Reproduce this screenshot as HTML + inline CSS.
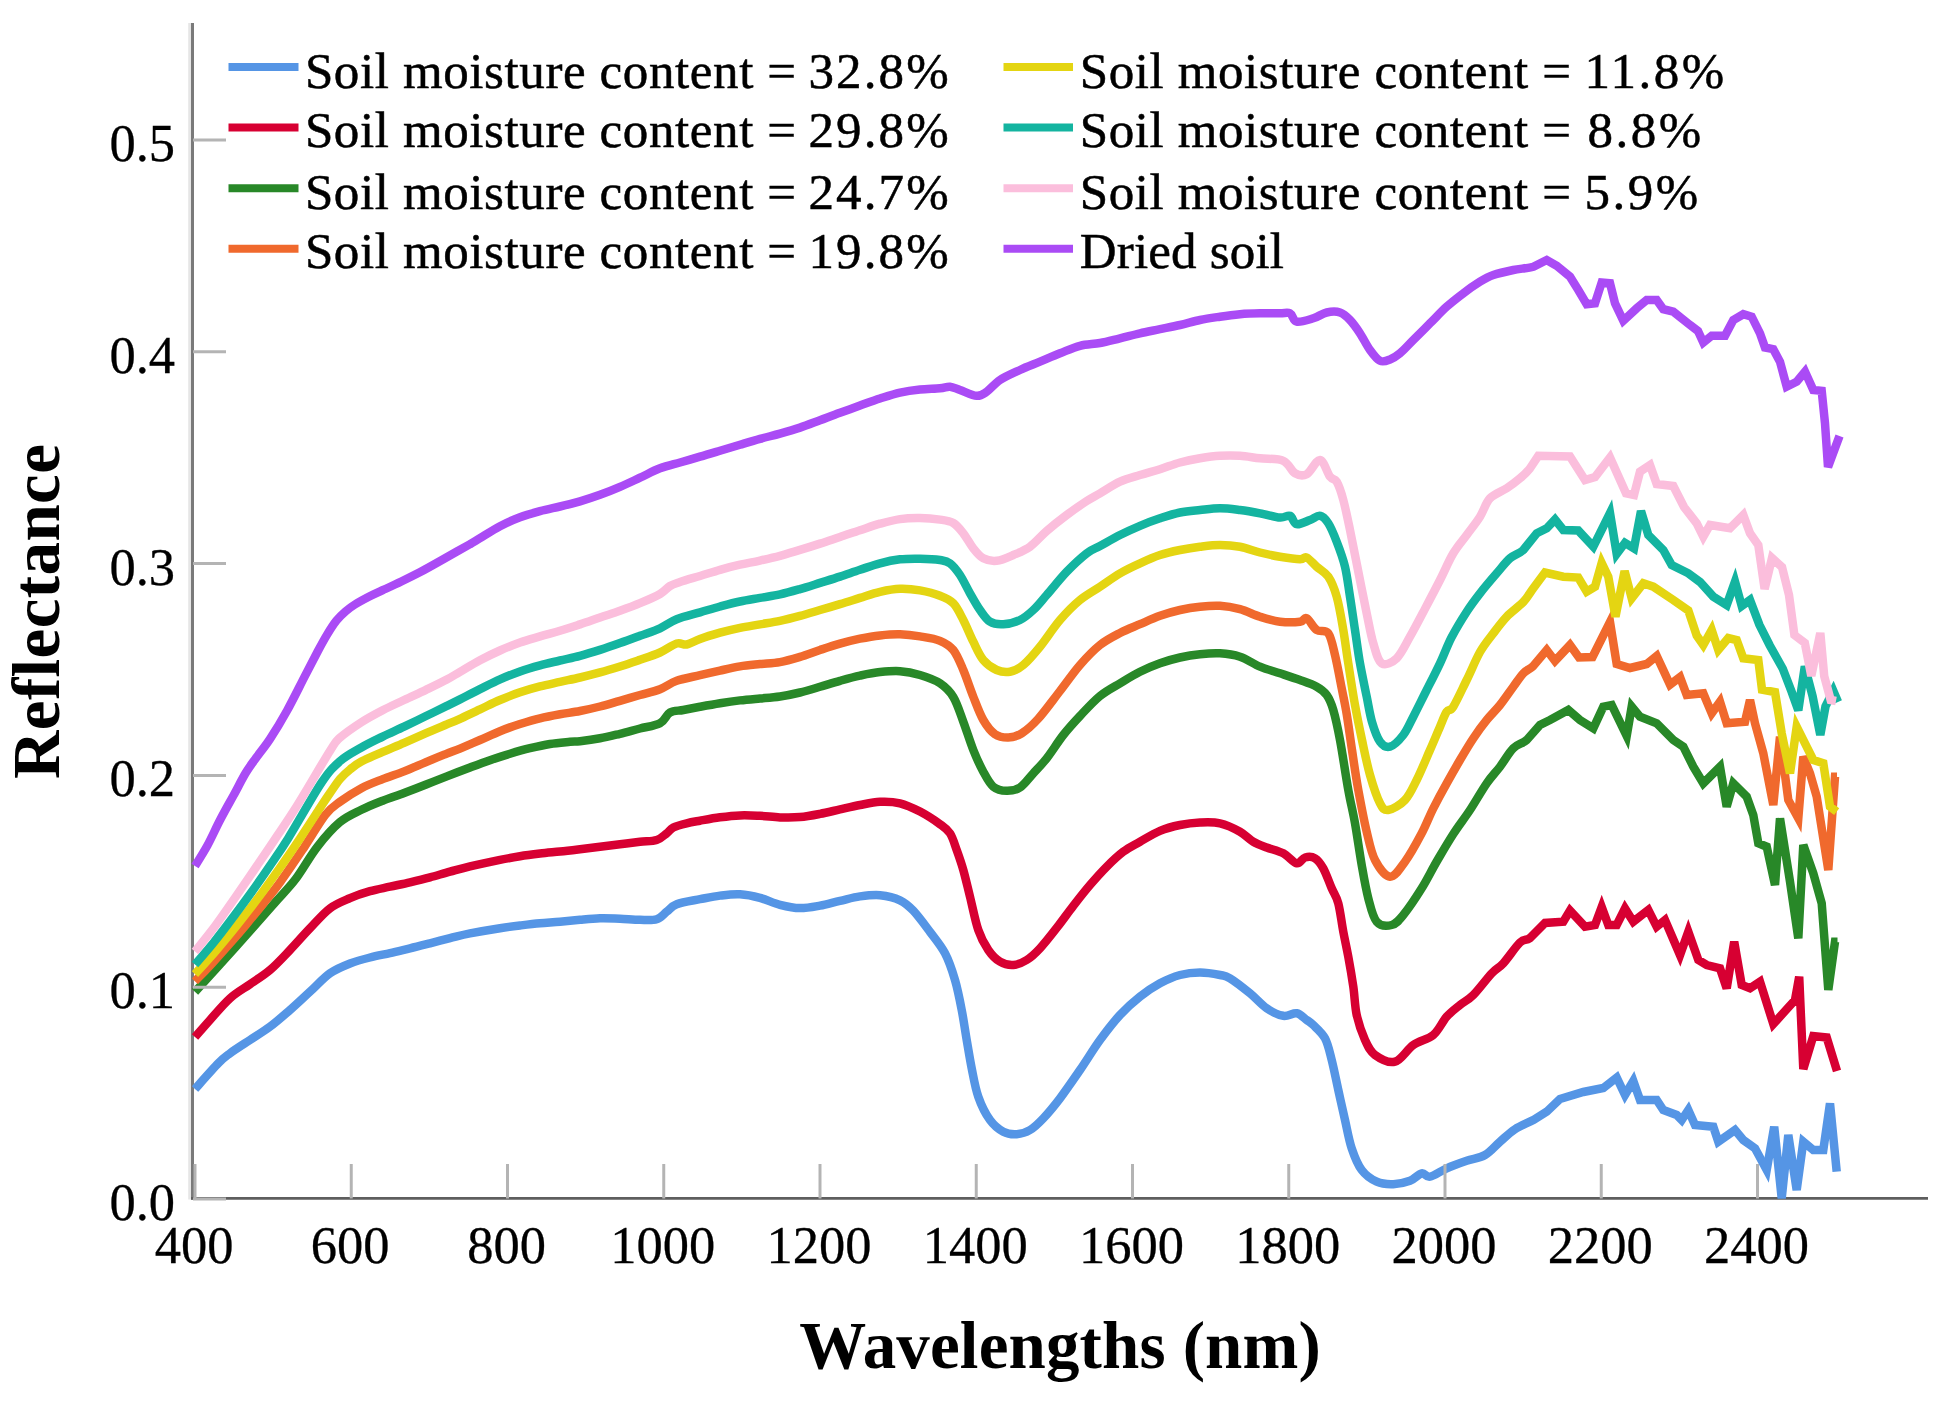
<!DOCTYPE html>
<html><head><meta charset="utf-8"><title>Soil reflectance spectra</title>
<style>html,body{margin:0;padding:0;background:#fff;}svg{display:block;}.lg{font-family:'Liberation Serif',serif;font-size:51px;fill:#000;stroke:#000;stroke-width:0.5px;}</style>
</head><body>
<svg width="1941" height="1404" viewBox="0 0 1941 1404">
<rect width="1941" height="1404" fill="#fff"/>
<line x1="189.6" y1="23" x2="189.6" y2="1199.5" stroke="#e6e6e6" stroke-width="2.8"/>
<line x1="192.5" y1="23" x2="192.5" y2="1199.5" stroke="#7a7a7a" stroke-width="3"/>
<line x1="191" y1="1198.4" x2="1928" y2="1198.4" stroke="#5e5e5e" stroke-width="2.8"/>
<g fill="none" stroke-width="8.5" stroke-linejoin="miter" stroke-miterlimit="4" stroke-linecap="butt">
<path stroke="#5595e5" d="M195.0,1089.0C198.9,1084.7 212.5,1069.2 218.3,1063.3C224.1,1057.3 224.7,1057.2 230.0,1053.3C235.3,1049.4 243.3,1044.4 250.0,1040.0C256.7,1035.6 263.3,1031.7 270.0,1026.7C276.7,1021.7 283.3,1015.8 290.0,1010.0C296.7,1004.2 303.3,997.8 310.0,991.7C316.7,985.6 323.3,978.0 330.0,973.3C336.7,968.6 343.3,966.1 350.0,963.5C356.7,960.9 363.3,959.2 370.0,957.5C376.7,955.8 383.3,954.6 390.0,953.1C396.7,951.6 403.3,949.9 410.0,948.3C416.7,946.7 423.3,945.0 430.0,943.3C436.7,941.6 443.3,939.8 450.0,938.1C456.7,936.5 461.7,935.0 470.0,933.4C478.3,931.8 491.7,929.5 500.0,928.2C508.3,926.9 513.3,926.3 520.0,925.5C526.7,924.7 533.3,923.9 540.0,923.3C546.7,922.7 553.3,922.3 560.0,921.7C566.7,921.1 573.3,920.4 580.0,919.8C586.7,919.2 593.3,918.5 600.0,918.3C606.7,918.1 613.3,918.5 620.0,918.7C626.7,919.0 633.9,919.7 640.0,919.8C646.1,919.9 652.2,920.6 656.7,919.2C661.2,917.9 663.4,914.2 666.7,911.7C670.0,909.2 671.2,906.3 676.7,904.2C682.2,902.1 692.8,900.6 700.0,899.2C707.2,897.8 713.3,896.4 720.0,895.6C726.7,894.8 733.3,893.9 740.0,894.3C746.7,894.7 753.3,896.1 760.0,897.9C766.7,899.6 773.3,903.1 780.0,904.8C786.7,906.5 793.3,908.0 800.0,908.1C806.7,908.2 813.3,906.8 820.0,905.6C826.7,904.4 833.3,902.3 840.0,900.8C846.7,899.3 853.3,897.3 860.0,896.4C866.7,895.5 873.3,894.6 880.0,895.2C886.7,895.9 894.5,897.7 900.0,900.3C905.5,902.9 908.3,905.4 913.3,910.7C918.3,916.0 924.7,924.8 930.0,931.9C935.3,939.0 940.8,945.3 945.0,953.3C949.2,961.3 952.2,970.5 955.0,980.0C957.8,989.5 959.8,1000.0 961.7,1010.0C963.7,1020.0 965.0,1030.3 966.7,1040.0C968.4,1049.7 969.8,1058.8 971.7,1068.3C973.6,1077.8 975.2,1088.1 978.3,1096.7C981.3,1105.3 985.8,1114.2 990.0,1120.0C994.2,1125.8 998.8,1129.3 1003.3,1131.7C1007.8,1134.1 1012.2,1134.5 1016.7,1134.2C1021.2,1133.9 1025.6,1132.7 1030.0,1130.0C1034.4,1127.3 1038.3,1123.6 1043.3,1118.3C1048.3,1113.0 1053.9,1106.3 1060.0,1098.3C1066.1,1090.2 1073.3,1079.7 1080.0,1070.0C1086.7,1060.3 1093.3,1049.2 1100.0,1040.0C1106.7,1030.8 1113.3,1022.2 1120.0,1015.0C1126.7,1007.8 1133.3,1002.0 1140.0,996.7C1146.7,991.4 1153.3,986.9 1160.0,983.3C1166.7,979.7 1173.3,976.8 1180.0,975.0C1186.7,973.2 1193.3,972.5 1200.0,972.5C1206.7,972.5 1215.0,974.0 1220.0,975.0C1225.0,976.0 1225.0,975.2 1230.0,978.3C1235.0,981.3 1243.9,988.3 1250.0,993.3C1256.1,998.3 1261.2,1004.5 1266.7,1008.3C1272.2,1012.0 1278.3,1015.0 1283.3,1015.8C1288.3,1016.6 1292.8,1012.6 1296.7,1013.3C1300.6,1014.0 1303.9,1018.0 1306.7,1020.0C1309.5,1022.0 1310.2,1022.0 1313.3,1025.0C1316.3,1028.0 1321.9,1032.5 1325.0,1038.3C1328.1,1044.1 1329.5,1051.4 1331.7,1060.0C1333.9,1068.6 1336.1,1080.0 1338.3,1090.0C1340.5,1100.0 1342.8,1110.3 1345.0,1120.0C1347.2,1129.7 1348.9,1140.0 1351.7,1148.3C1354.5,1156.6 1357.5,1164.4 1361.7,1170.0C1365.9,1175.6 1371.4,1179.3 1376.7,1181.7C1382.0,1184.1 1387.8,1184.4 1393.3,1184.2C1398.8,1184.0 1405.3,1182.6 1410.0,1180.8C1414.7,1179.0 1418.4,1174.0 1421.7,1173.3C1425.0,1172.6 1425.8,1177.5 1430.0,1176.7C1434.2,1175.9 1440.6,1171.0 1446.7,1168.3C1452.8,1165.6 1460.3,1163.0 1466.7,1160.8C1473.1,1158.6 1479.5,1158.2 1485.0,1155.0C1490.5,1151.8 1495.0,1146.0 1500.0,1141.7C1505.0,1137.4 1509.5,1132.8 1515.0,1129.2C1520.5,1125.6 1528.0,1122.9 1533.3,1120.0L1546.7,1111.7L1560.0,1099.0L1583.3,1092.0L1603.3,1088.0L1616.7,1077.5L1625.0,1095.0L1633.3,1081.0L1640.0,1100.0L1656.7,1100.0L1663.3,1110.0L1676.7,1115.0L1681.7,1120.0L1688.3,1110.0L1695.0,1125.0L1713.3,1126.7L1718.3,1141.7L1735.0,1130.0L1743.3,1140.0L1755.0,1148.3L1766.7,1170.0L1774.2,1126.7L1781.7,1198.3L1788.3,1135.0L1796.7,1190.0L1803.3,1141.7L1813.3,1150.0L1823.3,1150.0L1830.0,1103.3L1836.7,1171.7"/>
<path stroke="#d70032" d="M195.0,1037.0C197.5,1034.2 204.2,1026.5 210.0,1020.0C215.8,1013.5 223.3,1004.3 230.0,998.3C236.7,992.3 243.3,988.9 250.0,984.2C256.7,979.5 263.3,975.7 270.0,970.0C276.7,964.3 283.3,957.0 290.0,950.0C296.7,943.0 303.3,935.2 310.0,928.3C316.7,921.3 323.3,913.3 330.0,908.3C336.7,903.3 343.3,901.0 350.0,898.1C356.7,895.2 363.3,893.1 370.0,891.2C376.7,889.3 383.3,888.2 390.0,886.7C396.7,885.2 403.3,883.9 410.0,882.3C416.7,880.7 423.3,879.1 430.0,877.3C436.7,875.5 443.3,873.5 450.0,871.7C456.7,869.9 461.7,868.4 470.0,866.4C478.3,864.4 491.7,861.6 500.0,859.9C508.3,858.2 513.3,857.3 520.0,856.2C526.7,855.1 533.3,854.3 540.0,853.5C546.7,852.7 553.3,852.2 560.0,851.5C566.7,850.8 573.3,850.0 580.0,849.2C586.7,848.4 593.3,847.5 600.0,846.7C606.7,845.9 613.3,845.0 620.0,844.2C626.7,843.4 633.9,842.5 640.0,841.8C646.1,841.1 652.2,841.4 656.7,840.0C661.2,838.6 663.9,835.4 666.7,833.3C669.5,831.2 670.0,829.2 673.3,827.5C676.6,825.8 682.2,824.4 686.7,823.3C691.2,822.2 694.5,821.7 700.0,820.7C705.5,819.7 713.3,818.2 720.0,817.3C726.7,816.4 733.3,815.6 740.0,815.4C746.7,815.1 753.3,815.5 760.0,815.8C766.7,816.1 773.3,817.2 780.0,817.4C786.7,817.6 793.3,817.7 800.0,817.1C806.7,816.5 813.3,815.2 820.0,813.9C826.7,812.6 833.3,810.9 840.0,809.4C846.7,807.9 853.3,806.3 860.0,805.0C866.7,803.7 873.3,802.1 880.0,801.8C886.7,801.5 893.3,801.7 900.0,803.3C906.7,804.9 913.3,808.1 920.0,811.6C926.7,815.1 935.0,820.6 940.0,824.2C945.0,827.8 947.2,829.0 950.0,833.3C952.8,837.6 954.5,843.9 956.7,850.0C958.9,856.1 961.1,862.2 963.3,870.0C965.5,877.8 967.5,886.7 970.0,896.7C972.5,906.7 975.2,921.1 978.3,930.0C981.3,938.9 984.7,944.7 988.3,950.0C991.9,955.3 995.8,959.2 1000.0,961.7C1004.2,964.2 1008.8,965.3 1013.3,965.0C1017.8,964.7 1022.2,962.8 1026.7,960.0C1031.2,957.2 1034.7,954.0 1040.0,948.3C1045.3,942.6 1052.8,932.9 1058.3,925.8C1063.8,918.7 1068.0,912.6 1073.3,905.8C1078.6,899.0 1084.4,891.5 1090.0,885.0C1095.6,878.5 1101.2,872.2 1106.7,866.7C1112.2,861.2 1117.8,855.9 1123.3,851.7C1128.8,847.5 1133.9,845.2 1140.0,841.7C1146.1,838.2 1153.3,833.6 1160.0,830.8C1166.7,828.0 1173.3,826.4 1180.0,825.0C1186.7,823.6 1193.3,822.8 1200.0,822.5C1206.7,822.2 1213.3,821.8 1220.0,823.3C1226.7,824.8 1234.5,828.6 1240.0,831.7C1245.5,834.8 1248.8,839.1 1253.3,841.7C1257.8,844.3 1261.7,845.6 1266.7,847.5C1271.7,849.4 1278.3,850.7 1283.3,853.3C1288.3,855.9 1293.1,862.6 1296.7,863.3C1300.3,864.0 1302.0,858.3 1305.0,857.5C1308.0,856.7 1312.0,856.5 1315.0,858.3C1318.0,860.1 1320.5,863.3 1323.3,868.3C1326.1,873.3 1329.2,882.5 1331.7,888.3C1334.2,894.1 1336.4,896.1 1338.3,903.3C1340.2,910.5 1341.6,922.8 1343.3,931.7C1345.0,940.6 1346.6,947.5 1348.3,956.7C1350.0,965.9 1351.9,977.0 1353.3,986.7C1354.7,996.4 1354.8,1006.1 1356.7,1015.0C1358.7,1023.9 1362.0,1033.3 1365.0,1040.0C1368.0,1046.7 1370.0,1051.4 1375.0,1055.0C1380.0,1058.6 1388.6,1063.4 1395.0,1061.7C1401.4,1060.0 1406.9,1049.5 1413.3,1045.0C1419.7,1040.5 1427.7,1039.7 1433.3,1035.0C1438.9,1030.3 1442.2,1021.7 1446.7,1016.7C1451.2,1011.7 1455.6,1008.6 1460.0,1005.0C1464.4,1001.4 1468.0,1000.3 1473.3,995.0C1478.6,989.7 1486.7,978.6 1491.7,973.3C1496.7,968.0 1498.6,968.4 1503.3,963.3C1508.0,958.2 1515.5,946.7 1520.0,942.5C1524.5,938.3 1525.8,941.2 1530.0,938.0L1545.0,923.0L1563.3,921.7L1570.0,910.5L1585.0,926.7L1595.0,925.0L1601.7,907.0L1608.3,925.0L1616.7,925.0L1625.0,908.5L1633.3,921.7L1648.3,910.0L1656.7,926.7L1665.0,920.0L1680.0,955.0L1688.3,931.7L1698.3,960.0L1706.7,965.0L1720.0,968.3L1726.7,988.3L1734.2,941.7L1741.7,985.0L1750.0,988.3L1760.0,981.7L1773.3,1024.0L1795.0,1000.0L1799.2,976.7L1803.3,1069.0L1813.3,1036.0L1826.7,1037.5L1837.0,1071.0"/>
<path stroke="#288828" d="M195.0,991.9C198.4,988.2 208.5,977.1 215.2,969.7C221.9,962.3 228.6,954.8 235.3,947.3C242.0,939.8 248.8,932.3 255.5,924.7C262.2,917.1 268.9,909.5 275.6,901.9C282.3,894.2 288.9,888.0 295.8,878.8C302.8,869.6 309.9,856.2 317.3,846.8C324.7,837.3 332.6,828.3 340.0,822.1C347.4,815.9 354.3,813.4 361.4,809.8C368.5,806.2 375.6,803.5 382.7,800.7C389.8,797.9 397.0,795.7 404.1,793.0C411.2,790.3 418.4,787.5 425.5,784.7C432.6,781.9 439.4,779.3 446.8,776.4C454.2,773.5 462.8,770.2 470.0,767.5C477.2,764.8 483.3,762.5 490.0,760.2C496.7,757.9 503.3,755.7 510.0,753.7C516.7,751.7 523.3,749.8 530.0,748.2C536.7,746.6 543.3,745.1 550.0,744.0C556.7,742.9 565.0,742.3 570.0,741.8C575.0,741.3 575.0,741.8 580.0,741.2C585.0,740.6 593.3,739.5 600.0,738.3C606.7,737.1 613.3,735.4 620.0,733.8C626.7,732.2 633.3,730.2 640.0,728.5C646.7,726.8 655.0,726.0 660.0,723.3C665.0,720.6 666.1,714.7 670.0,712.5C673.9,710.3 678.3,711.0 683.3,710.0C688.3,709.0 693.9,707.9 700.0,706.8C706.1,705.7 713.3,704.4 720.0,703.3C726.7,702.2 733.3,701.2 740.0,700.4C746.7,699.6 753.3,699.1 760.0,698.5C766.7,697.9 773.3,697.5 780.0,696.5C786.7,695.5 793.3,694.1 800.0,692.5C806.7,690.9 813.3,688.8 820.0,686.8C826.7,684.8 833.3,682.7 840.0,680.8C846.7,678.9 853.3,677.0 860.0,675.6C866.7,674.2 873.3,672.8 880.0,672.1C886.7,671.4 893.3,670.7 900.0,671.2C906.7,671.7 913.3,673.0 920.0,675.0C926.7,677.0 934.5,679.6 940.0,683.3C945.5,687.0 949.4,690.6 953.3,697.0C957.2,703.4 960.0,712.9 963.3,721.7C966.6,730.5 970.0,741.7 973.3,750.0C976.6,758.3 980.0,765.6 983.3,771.7C986.6,777.8 989.4,783.5 993.3,786.7C997.2,789.9 1002.2,790.7 1006.7,790.8C1011.2,790.9 1015.6,790.4 1020.0,787.5C1024.4,784.6 1028.8,778.2 1033.3,773.3C1037.8,768.4 1041.7,764.7 1046.7,758.3C1051.7,751.9 1057.8,742.0 1063.3,735.0C1068.8,728.0 1073.9,722.5 1080.0,716.0C1086.1,709.5 1093.3,701.5 1100.0,696.0C1106.7,690.5 1113.3,687.3 1120.0,683.3C1126.7,679.2 1133.3,675.0 1140.0,671.7C1146.7,668.4 1153.3,665.7 1160.0,663.3C1166.7,660.9 1173.3,659.0 1180.0,657.5C1186.7,656.0 1193.3,654.9 1200.0,654.2C1206.7,653.5 1213.3,652.9 1220.0,653.3C1226.7,653.7 1233.3,654.5 1240.0,656.7C1246.7,658.9 1253.3,663.9 1260.0,666.7C1266.7,669.5 1273.3,671.1 1280.0,673.3C1286.7,675.5 1293.9,677.8 1300.0,680.0C1306.1,682.2 1312.2,684.2 1316.7,686.7C1321.2,689.2 1323.9,691.1 1326.7,695.0C1329.5,698.9 1331.1,702.5 1333.3,710.0C1335.5,717.5 1337.5,726.7 1340.0,740.0C1342.5,753.3 1345.8,776.1 1348.3,790.0C1350.8,803.9 1352.8,810.8 1355.0,823.3C1357.2,835.8 1359.5,852.5 1361.7,865.0C1363.9,877.5 1365.8,888.8 1368.3,898.3C1370.8,907.8 1372.8,917.2 1376.7,921.7C1380.6,926.2 1387.3,926.1 1391.7,925.0C1396.1,923.9 1398.3,921.1 1403.3,915.0C1408.3,908.9 1416.1,897.3 1421.7,888.3C1427.3,879.3 1431.7,870.0 1437.0,861.0C1442.3,852.0 1447.8,842.5 1453.3,834.0C1458.8,825.5 1464.4,818.5 1470.0,810.0C1475.6,801.5 1481.7,790.5 1486.7,783.3C1491.7,776.1 1495.6,772.5 1500.0,766.7C1504.4,760.9 1508.8,752.8 1513.3,748.3C1517.8,743.8 1522.2,743.9 1526.7,740.0L1540.0,725.0L1550.0,720.0L1568.3,710.0L1580.0,720.0L1593.3,728.3L1603.3,706.7L1611.7,705.0L1626.7,736.0L1631.7,706.7L1640.0,716.7L1656.7,723.3L1673.3,740.0L1683.3,746.7L1693.3,766.7L1703.3,783.3L1720.0,766.7L1726.7,806.7L1733.3,783.3L1746.7,796.7L1753.3,815.0L1758.3,843.3L1766.7,846.7L1775.0,885.0L1780.0,818.3L1790.0,881.7L1798.3,938.3L1803.3,845.0L1813.3,873.3L1821.7,903.3L1828.3,990.0L1835.0,941.7L1837.5,941.7"/>
<path stroke="#f0692d" d="M195.0,981.3C197.8,978.3 206.4,969.5 212.1,963.3C217.8,957.1 223.5,950.8 229.2,944.3C234.9,937.8 240.6,931.2 246.3,924.4C252.0,917.6 257.7,910.6 263.4,903.5C269.1,896.4 273.6,891.2 280.5,881.7C287.4,872.2 297.0,857.9 304.5,846.8C312.0,835.6 319.4,822.3 325.3,814.8C331.2,807.3 334.0,806.2 340.0,801.8C346.0,797.4 354.3,792.0 361.4,788.2C368.5,784.4 375.6,781.9 382.7,779.1C389.8,776.3 397.0,774.2 404.1,771.4C411.2,768.6 418.4,765.3 425.5,762.3C432.6,759.3 441.1,755.9 446.8,753.6C452.6,751.3 454.5,750.9 460.0,748.6C465.5,746.3 473.3,742.9 480.0,740.0C486.7,737.1 493.3,733.9 500.0,731.2C506.7,728.5 513.3,726.1 520.0,724.0C526.7,721.9 533.3,719.9 540.0,718.3C546.7,716.7 553.3,715.5 560.0,714.3C566.7,713.1 573.3,712.3 580.0,711.0C586.7,709.7 593.3,708.2 600.0,706.5C606.7,704.8 613.3,702.7 620.0,700.8C626.7,698.9 633.3,696.9 640.0,695.0C646.7,693.1 653.9,691.6 660.0,689.2C666.1,686.8 670.0,683.1 676.7,680.8C683.4,678.5 692.8,676.9 700.0,675.2C707.2,673.5 713.3,672.1 720.0,670.6C726.7,669.1 733.3,667.5 740.0,666.4C746.7,665.3 753.3,664.8 760.0,664.1C766.7,663.4 773.3,663.3 780.0,662.1C786.7,660.9 793.3,658.9 800.0,656.9C806.7,654.9 813.3,652.2 820.0,650.0C826.7,647.8 833.3,645.6 840.0,643.7C846.7,641.8 853.3,640.1 860.0,638.7C866.7,637.3 873.3,636.1 880.0,635.4C886.7,634.7 893.3,634.1 900.0,634.3C906.7,634.5 913.3,635.3 920.0,636.4C926.7,637.5 934.5,638.5 940.0,640.8C945.5,643.1 949.4,645.1 953.3,650.0C957.2,654.9 960.0,662.2 963.3,670.0C966.6,677.8 970.0,688.4 973.3,696.7C976.6,705.0 979.7,713.8 983.3,720.0C986.9,726.2 990.8,731.3 995.0,734.2C999.2,737.1 1003.8,737.6 1008.3,737.5C1012.8,737.4 1016.8,736.4 1021.7,733.3C1026.7,730.2 1031.6,726.0 1038.0,719.0C1044.4,712.0 1053.0,700.0 1060.0,691.0C1067.0,682.0 1073.3,672.7 1080.0,665.0C1086.7,657.3 1093.3,650.3 1100.0,645.0C1106.7,639.7 1113.3,636.5 1120.0,633.0C1126.7,629.5 1133.3,627.1 1140.0,624.2C1146.7,621.3 1153.3,618.2 1160.0,615.8C1166.7,613.4 1173.3,611.5 1180.0,610.0C1186.7,608.5 1193.3,607.4 1200.0,606.7C1206.7,606.0 1213.3,605.4 1220.0,605.8C1226.7,606.2 1233.3,607.4 1240.0,609.2C1246.7,611.0 1253.3,614.6 1260.0,616.7C1266.7,618.8 1273.3,620.9 1280.0,621.7C1286.7,622.5 1295.5,622.3 1300.0,621.7C1304.5,621.1 1303.9,616.9 1306.7,618.3C1309.5,619.7 1313.1,627.5 1316.7,630.0C1320.3,632.5 1325.2,629.1 1328.3,633.3C1331.3,637.5 1332.8,645.8 1335.0,655.0C1337.2,664.2 1339.8,678.5 1341.7,688.3C1343.7,698.1 1345.0,703.7 1346.7,714.0C1348.4,724.3 1350.1,737.3 1352.0,750.0C1353.9,762.7 1355.8,776.4 1358.3,790.0C1360.8,803.6 1363.9,820.0 1366.7,831.7C1369.5,843.4 1371.1,852.5 1375.0,860.0C1378.9,867.5 1385.0,876.4 1390.0,876.7C1395.0,877.0 1399.7,868.9 1405.0,861.7C1410.3,854.5 1417.0,842.2 1421.7,833.3C1426.4,824.4 1429.1,816.6 1433.3,808.3C1437.5,800.0 1442.2,791.3 1446.7,783.3C1451.2,775.2 1455.6,767.5 1460.0,760.0C1464.4,752.5 1468.8,745.0 1473.3,738.3C1477.8,731.6 1482.2,725.5 1486.7,720.0C1491.2,714.5 1495.6,710.5 1500.0,705.0C1504.4,699.5 1509.4,692.0 1513.3,686.7C1517.2,681.4 1520.0,676.8 1523.3,673.3C1526.6,669.8 1529.4,669.9 1533.3,666.0L1546.7,650.0L1555.0,661.0L1570.0,645.0L1579.0,657.5L1592.5,657.0L1610.0,622.0L1616.7,664.0L1630.0,668.0L1646.7,664.0L1656.7,656.0L1670.0,684.6L1680.0,677.0L1686.7,695.0L1703.3,693.3L1711.7,713.3L1720.0,701.7L1726.7,723.3L1745.0,721.7L1750.0,700.0L1755.0,723.3L1763.3,753.3L1773.3,805.0L1780.0,736.7L1788.3,800.0L1798.3,818.3L1803.3,756.7L1810.0,773.3L1816.7,796.7L1828.3,870.0L1835.0,776.7L1837.0,776.7"/>
<path stroke="#e4d512" d="M195.0,974.1C198.5,970.2 209.0,958.7 216.0,950.6C223.0,942.5 229.9,934.0 236.9,925.3C243.9,916.6 250.9,907.6 257.9,898.3C264.9,889.0 271.8,879.3 278.8,869.4C285.8,859.5 293.3,848.5 299.8,838.8C306.3,829.1 313.0,818.6 318.0,811.0C323.0,803.4 326.3,798.3 330.0,793.0C333.7,787.7 336.7,782.9 340.0,779.0C343.3,775.1 346.4,772.4 350.0,769.5C353.6,766.6 355.9,764.4 361.4,761.5C366.8,758.6 375.6,755.0 382.7,751.9C389.8,748.8 397.0,745.9 404.1,742.8C411.2,739.7 418.4,736.5 425.5,733.4C432.6,730.3 441.1,726.8 446.8,724.4C452.6,722.0 454.5,721.3 460.0,718.8C465.5,716.3 473.3,712.4 480.0,709.3C486.7,706.2 493.3,702.8 500.0,700.0C506.7,697.2 513.3,694.6 520.0,692.3C526.7,690.0 533.3,688.1 540.0,686.4C546.7,684.7 553.3,683.4 560.0,681.9C566.7,680.4 573.3,679.1 580.0,677.5C586.7,675.9 593.3,674.2 600.0,672.4C606.7,670.6 613.3,668.6 620.0,666.5C626.7,664.4 633.3,662.1 640.0,659.8C646.7,657.5 653.9,655.2 660.0,652.5C666.1,649.8 672.2,644.8 676.7,643.5C681.2,642.2 682.8,645.2 686.7,644.5C690.6,643.8 694.5,641.0 700.0,639.0C705.5,637.0 713.3,634.6 720.0,632.7C726.7,630.9 733.3,629.3 740.0,627.9C746.7,626.5 753.3,625.6 760.0,624.4C766.7,623.2 773.3,622.2 780.0,620.8C786.7,619.4 793.3,617.7 800.0,615.9C806.7,614.1 813.3,612.0 820.0,610.0C826.7,608.0 833.3,606.2 840.0,604.2C846.7,602.2 853.3,600.0 860.0,597.9C866.7,595.8 873.3,593.3 880.0,591.8C886.7,590.3 893.3,589.0 900.0,588.8C906.7,588.6 913.3,589.2 920.0,590.4C926.7,591.6 934.5,593.6 940.0,595.8C945.5,597.9 949.4,599.3 953.3,603.3C957.2,607.3 960.0,613.6 963.3,620.0C966.6,626.4 970.0,635.0 973.3,641.7C976.6,648.4 979.4,655.3 983.3,660.0C987.2,664.7 992.2,668.0 996.7,670.0C1001.2,672.0 1005.6,672.5 1010.0,671.7C1014.4,670.9 1018.3,669.2 1023.3,665.0C1028.3,660.8 1033.9,654.2 1040.0,646.7C1046.1,639.2 1053.3,627.8 1060.0,620.0C1066.7,612.2 1073.3,605.5 1080.0,600.0C1086.7,594.5 1093.3,591.2 1100.0,586.7C1106.7,582.2 1113.3,577.2 1120.0,573.3C1126.7,569.4 1133.3,566.3 1140.0,563.3C1146.7,560.2 1153.3,557.2 1160.0,555.0C1166.7,552.8 1173.3,551.4 1180.0,550.0C1186.7,548.6 1193.3,547.5 1200.0,546.7C1206.7,545.9 1213.3,545.0 1220.0,545.0C1226.7,545.0 1233.3,545.5 1240.0,546.7C1246.7,548.0 1253.3,550.8 1260.0,552.5C1266.7,554.2 1273.3,555.6 1280.0,556.7C1286.7,557.8 1295.5,559.1 1300.0,559.2C1304.5,559.3 1303.9,556.2 1306.7,557.5C1309.5,558.8 1313.1,563.5 1316.7,566.7C1320.3,569.9 1325.0,571.7 1328.3,576.7C1331.6,581.7 1334.2,587.8 1336.7,596.7C1339.2,605.6 1341.4,618.9 1343.3,630.0C1345.2,641.1 1346.3,650.8 1348.3,663.3C1350.2,675.8 1352.7,692.2 1355.0,705.0C1357.3,717.8 1359.5,728.3 1362.0,740.0C1364.5,751.7 1367.0,764.5 1370.0,775.0C1373.0,785.5 1377.0,797.5 1380.0,803.3C1383.0,809.1 1384.1,810.5 1388.3,810.0C1392.5,809.5 1400.3,805.0 1405.0,800.0C1409.7,795.0 1412.5,788.3 1416.7,780.0C1420.9,771.7 1426.1,758.9 1430.0,750.0C1433.9,741.1 1437.2,733.1 1440.0,726.7C1442.8,720.3 1444.5,715.0 1446.7,711.7C1448.9,708.4 1450.0,712.0 1453.3,706.7C1456.6,701.4 1462.2,689.1 1466.7,680.0C1471.2,670.9 1475.6,659.8 1480.0,652.0C1484.4,644.2 1488.8,639.2 1493.3,633.3C1497.8,627.4 1501.7,621.9 1506.7,616.7C1511.7,611.5 1518.9,606.7 1523.3,602.0C1527.7,597.3 1529.7,593.2 1533.3,588.3L1545.0,572.5L1563.3,576.7L1578.3,577.5L1586.7,591.7L1595.0,586.7L1601.7,563.0L1608.3,576.7L1615.5,616.7L1624.6,571.0L1631.7,598.3L1643.3,583.3L1653.3,586.7L1673.3,600.0L1688.3,610.5L1696.7,635.5L1703.3,645.0L1711.7,630.0L1718.3,650.0L1728.3,638.0L1736.7,640.0L1743.3,658.3L1758.3,660.0L1762.0,689.6L1775.0,692.2L1781.7,733.3L1790.0,773.3L1796.7,726.7L1805.0,743.3L1813.3,760.0L1823.3,763.3L1830.0,806.7L1836.7,811.7"/>
<path stroke="#14b4a0" d="M195.0,964.5C198.1,960.9 207.4,950.3 213.6,942.6C219.8,934.9 226.0,926.7 232.2,918.4C238.4,910.1 244.7,901.7 250.9,893.0C257.1,884.3 263.3,875.4 269.5,866.3C275.7,857.2 279.4,852.3 288.1,838.4C296.8,824.5 312.9,795.6 321.5,782.7C330.1,769.8 333.4,767.1 340.0,761.2C346.6,755.3 354.3,751.6 361.4,747.5C368.5,743.4 375.6,740.1 382.7,736.6C389.8,733.1 397.0,730.1 404.1,726.7C411.2,723.3 418.4,719.8 425.5,716.3C432.6,712.8 441.1,708.7 446.8,705.9C452.6,703.1 454.5,702.2 460.0,699.4C465.5,696.6 473.3,692.4 480.0,689.1C486.7,685.8 493.3,682.4 500.0,679.4C506.7,676.4 513.3,673.8 520.0,671.4C526.7,669.0 533.3,667.1 540.0,665.3C546.7,663.5 553.3,662.1 560.0,660.5C566.7,658.9 573.3,657.6 580.0,655.8C586.7,654.0 593.3,652.0 600.0,649.9C606.7,647.8 613.3,645.5 620.0,643.1C626.7,640.8 633.3,638.3 640.0,635.8C646.7,633.3 653.9,631.1 660.0,628.3C666.1,625.5 670.0,621.9 676.7,619.2C683.4,616.6 692.8,614.5 700.0,612.4C707.2,610.3 713.3,608.3 720.0,606.5C726.7,604.7 733.3,602.9 740.0,601.5C746.7,600.1 753.3,599.1 760.0,597.9C766.7,596.7 773.3,595.9 780.0,594.4C786.7,592.9 793.3,591.0 800.0,589.1C806.7,587.2 813.3,585.0 820.0,582.9C826.7,580.8 833.3,578.8 840.0,576.6C846.7,574.4 853.3,572.0 860.0,569.8C866.7,567.6 873.3,565.0 880.0,563.3C886.7,561.5 893.3,560.1 900.0,559.3C906.7,558.5 913.3,558.6 920.0,558.7C926.7,558.8 935.0,559.2 940.0,560.0C945.0,560.8 946.7,560.8 950.0,563.3C953.3,565.8 956.7,570.0 960.0,575.0C963.3,580.0 966.7,587.5 970.0,593.3C973.3,599.1 976.7,605.3 980.0,610.0C983.3,614.7 986.1,619.3 990.0,621.7C993.9,624.1 998.3,624.5 1003.3,624.2C1008.3,623.9 1015.0,622.4 1020.0,620.0C1025.0,617.6 1028.8,614.2 1033.3,610.0C1037.8,605.8 1041.1,601.4 1046.7,595.0C1052.3,588.6 1060.0,578.7 1066.7,571.7C1073.4,564.8 1081.2,557.6 1086.7,553.3C1092.2,549.0 1094.5,549.0 1100.0,546.0C1105.5,543.0 1113.3,538.4 1120.0,535.0C1126.7,531.6 1133.3,528.6 1140.0,525.8C1146.7,523.0 1153.3,520.5 1160.0,518.3C1166.7,516.1 1173.3,513.9 1180.0,512.5C1186.7,511.1 1193.3,510.7 1200.0,510.0C1206.7,509.3 1213.3,508.3 1220.0,508.3C1226.7,508.3 1233.3,509.2 1240.0,510.0C1246.7,510.8 1253.3,512.0 1260.0,513.3C1266.7,514.5 1275.0,517.1 1280.0,517.5C1285.0,517.9 1287.2,514.7 1290.0,515.8C1292.8,516.9 1293.4,523.5 1296.7,524.2C1300.0,524.9 1306.1,521.4 1310.0,520.0C1313.9,518.6 1317.0,515.2 1320.0,515.8C1323.0,516.3 1325.5,519.0 1328.3,523.3C1331.1,527.6 1333.9,534.5 1336.7,541.7C1339.5,548.9 1342.8,557.5 1345.0,566.7C1347.2,575.9 1348.3,586.2 1350.0,596.7C1351.7,607.2 1353.3,618.9 1355.0,630.0C1356.7,641.1 1358.0,652.2 1360.0,663.3C1362.0,674.4 1364.7,686.9 1366.7,696.7C1368.7,706.5 1369.8,714.5 1372.0,722.0C1374.2,729.5 1377.0,737.6 1380.0,741.7C1383.0,745.8 1386.1,747.8 1390.0,746.7C1393.9,745.6 1399.4,740.0 1403.3,735.0C1407.2,730.0 1409.4,724.2 1413.3,716.7C1417.2,709.2 1422.2,698.9 1426.7,690.0C1431.2,681.1 1435.8,672.1 1440.0,663.3C1444.2,654.5 1447.2,645.6 1451.7,637.0C1456.2,628.4 1462.0,619.0 1466.7,611.7C1471.4,604.4 1475.0,599.7 1480.0,593.3C1485.0,586.9 1491.7,579.1 1496.7,573.3C1501.7,567.5 1505.6,562.2 1510.0,558.3C1514.4,554.4 1518.8,554.2 1523.3,550.0L1536.7,533.3L1546.7,528.3L1555.0,519.5L1563.3,530.0L1578.3,530.5L1593.3,546.7L1610.0,513.0L1616.7,554.0L1625.0,542.8L1634.0,548.3L1641.0,511.0L1648.3,535.0L1663.3,550.0L1671.7,565.0L1688.3,573.3L1700.0,582.0L1713.3,596.7L1726.7,605.0L1735.0,581.7L1741.7,606.0L1750.0,600.0L1759.4,624.8L1769.8,645.5L1782.8,668.8L1791.8,692.2L1798.3,710.3L1804.8,666.3L1812.6,696.1L1820.3,734.9L1825.5,706.4L1833.3,690.9L1838.0,702.0"/>
<path stroke="#fbbedc" d="M195.0,951.5C198.4,947.2 208.7,934.7 215.5,925.5C222.3,916.3 229.2,906.2 236.0,896.4C242.8,886.6 249.7,876.5 256.5,866.5C263.3,856.5 270.2,846.4 277.0,836.1C283.8,825.8 288.6,819.1 297.5,804.9C306.4,790.7 323.0,761.9 330.1,750.7C337.2,739.5 334.8,742.5 340.0,737.7C345.2,733.0 354.3,726.8 361.4,722.2C368.5,717.6 375.6,713.9 382.7,710.2C389.8,706.5 397.0,703.4 404.1,700.0C411.2,696.6 418.4,693.5 425.5,690.1C432.6,686.7 441.1,682.7 446.8,679.6C452.6,676.5 454.5,675.0 460.0,671.8C465.5,668.6 473.3,663.8 480.0,660.2C486.7,656.7 493.3,653.5 500.0,650.5C506.7,647.5 513.3,644.9 520.0,642.5C526.7,640.1 533.3,638.4 540.0,636.4C546.7,634.4 553.3,632.8 560.0,630.8C566.7,628.8 573.3,626.6 580.0,624.4C586.7,622.2 593.3,619.8 600.0,617.5C606.7,615.2 613.3,613.2 620.0,610.8C626.7,608.4 633.3,606.0 640.0,603.2C646.7,600.4 655.0,596.9 660.0,594.0C665.0,591.1 666.7,588.0 670.0,586.0C673.3,584.0 675.0,583.7 680.0,582.0C685.0,580.3 693.3,578.0 700.0,576.0C706.7,574.0 713.3,571.7 720.0,569.8C726.7,567.9 733.3,566.2 740.0,564.7C746.7,563.2 753.3,562.1 760.0,560.6C766.7,559.1 773.3,557.6 780.0,555.8C786.7,554.0 793.3,551.9 800.0,549.9C806.7,547.9 813.3,545.8 820.0,543.6C826.7,541.5 833.3,539.2 840.0,537.0C846.7,534.8 853.3,532.4 860.0,530.2C866.7,528.0 873.3,525.6 880.0,523.7C886.7,521.9 893.3,520.1 900.0,519.1C906.7,518.1 913.3,517.9 920.0,518.0C926.7,518.1 934.5,518.8 940.0,519.6C945.5,520.4 949.4,520.7 953.3,523.0C957.2,525.3 960.0,529.1 963.3,533.3C966.6,537.5 970.0,544.1 973.3,548.3C976.6,552.5 979.4,556.2 983.3,558.3C987.2,560.4 991.7,561.3 996.7,560.8C1001.7,560.2 1007.8,557.4 1013.3,555.0C1018.8,552.6 1024.4,550.7 1030.0,546.7C1035.6,542.7 1040.6,536.3 1046.7,531.0C1052.8,525.7 1060.0,520.0 1066.7,515.0C1073.4,510.0 1081.2,504.6 1086.7,501.0C1092.2,497.4 1094.5,496.5 1100.0,493.3C1105.5,490.1 1113.3,484.8 1120.0,481.7C1126.7,478.6 1133.3,477.1 1140.0,475.0C1146.7,472.9 1153.3,471.3 1160.0,469.2C1166.7,467.1 1173.3,464.3 1180.0,462.5C1186.7,460.7 1193.3,459.4 1200.0,458.3C1206.7,457.2 1213.3,456.2 1220.0,455.8C1226.7,455.4 1233.3,455.4 1240.0,455.8C1246.7,456.2 1252.8,457.5 1260.0,458.3C1267.2,459.1 1277.5,458.3 1283.3,460.8C1289.1,463.3 1291.1,471.1 1295.0,473.3C1298.9,475.5 1302.5,476.4 1306.7,474.2C1310.9,472.0 1316.1,459.6 1320.0,460.0C1323.9,460.4 1327.2,473.1 1330.0,476.7C1332.8,480.3 1334.5,477.8 1336.7,481.7C1338.9,485.6 1341.1,491.9 1343.3,500.0C1345.5,508.1 1347.5,518.0 1350.0,530.0C1352.5,542.0 1355.5,557.8 1358.3,571.7C1361.1,585.6 1364.2,601.4 1366.7,613.3C1369.2,625.2 1370.8,635.0 1373.3,643.3C1375.8,651.6 1377.8,660.8 1381.7,663.3C1385.6,665.8 1392.0,662.7 1396.7,658.3C1401.4,653.9 1405.6,644.4 1410.0,636.7C1414.4,629.0 1418.3,621.5 1423.3,612.0C1428.3,602.5 1435.0,589.8 1440.0,580.0C1445.0,570.2 1448.8,560.8 1453.3,553.3C1457.8,545.8 1462.2,541.1 1466.7,535.0C1471.2,528.9 1476.1,522.8 1480.0,516.7C1483.9,510.6 1485.5,503.0 1490.0,498.3C1494.5,493.6 1501.7,491.6 1506.7,488.3C1511.7,485.0 1516.1,481.6 1520.0,478.3C1523.9,475.0 1527.0,472.1 1530.0,468.3L1538.3,455.8L1570.0,456.5L1585.0,480.0L1595.0,477.0L1610.0,457.5L1626.0,493.3L1634.0,495.0L1640.0,471.7L1650.0,465.0L1656.7,484.0L1673.3,486.0L1684.0,507.0L1696.7,523.3L1703.3,536.7L1710.0,525.0L1730.0,528.3L1743.3,515.0L1750.0,533.3L1758.3,545.0L1764.6,589.0L1772.0,558.0L1782.0,567.0L1789.0,595.0L1794.4,635.0L1804.8,643.0L1811.3,676.0L1820.3,633.0L1824.2,676.0L1830.7,700.0L1836.0,701.0"/>
<path stroke="#aa4bf5" d="M195.0,866.0C197.1,862.6 203.2,853.2 207.4,845.5C211.6,837.8 215.9,828.0 220.2,819.8C224.5,811.5 228.9,803.8 233.2,796.0C237.5,788.2 242.0,779.1 245.8,772.8C249.6,766.5 252.0,763.6 256.0,758.0C260.0,752.4 264.7,747.0 269.9,739.1C275.1,731.2 281.3,721.0 287.0,710.7C292.7,700.5 299.0,687.5 304.1,677.6C309.2,667.7 314.0,658.5 317.8,651.3C321.6,644.1 324.0,639.7 327.1,634.6C330.2,629.5 333.3,624.6 336.4,620.7C339.5,616.8 342.5,614.1 345.6,611.4C348.7,608.7 351.0,606.9 354.9,604.5C358.8,602.1 364.2,599.2 368.8,596.8C373.4,594.4 377.3,592.8 382.7,590.2C388.1,587.7 395.1,584.5 401.3,581.5C407.5,578.5 413.6,575.5 419.8,572.3C426.0,569.0 432.2,565.5 438.4,562.0C444.6,558.5 451.6,554.5 456.9,551.5C462.2,548.5 466.1,546.4 470.0,544.2C473.9,542.0 475.0,541.2 480.0,538.2C485.0,535.2 493.3,529.7 500.0,526.2C506.7,522.7 513.3,519.8 520.0,517.3C526.7,514.8 533.3,513.0 540.0,511.2C546.7,509.4 553.3,508.1 560.0,506.5C566.7,504.9 573.3,503.2 580.0,501.3C586.7,499.4 593.3,497.2 600.0,494.8C606.7,492.4 613.3,489.8 620.0,486.9C626.7,484.0 633.3,480.8 640.0,477.7C646.7,474.6 653.3,470.8 660.0,468.3C666.7,465.8 673.3,464.4 680.0,462.5C686.7,460.6 693.3,458.6 700.0,456.7C706.7,454.8 713.3,452.8 720.0,450.8C726.7,448.8 733.3,446.8 740.0,444.8C746.7,442.8 753.3,440.8 760.0,438.9C766.7,437.0 773.3,435.5 780.0,433.6C786.7,431.7 793.3,429.8 800.0,427.6C806.7,425.4 813.3,422.7 820.0,420.2C826.7,417.7 833.3,415.1 840.0,412.7C846.7,410.3 853.3,408.0 860.0,405.6C866.7,403.2 873.3,400.6 880.0,398.5C886.7,396.4 893.3,394.2 900.0,392.7C906.7,391.2 913.3,390.3 920.0,389.6C926.7,388.9 935.0,388.8 940.0,388.3C945.0,387.8 946.7,386.4 950.0,386.7C953.3,387.0 955.5,388.5 960.0,390.0C964.5,391.5 972.2,395.5 976.7,395.8C981.2,396.1 982.8,394.3 986.7,391.7C990.6,389.1 994.5,383.6 1000.0,380.0C1005.5,376.4 1013.3,373.1 1020.0,370.0C1026.7,366.9 1033.3,364.5 1040.0,361.7C1046.7,358.9 1053.3,355.9 1060.0,353.3C1066.7,350.7 1073.3,347.5 1080.0,345.8C1086.7,344.1 1093.3,344.2 1100.0,343.0C1106.7,341.8 1113.3,339.9 1120.0,338.3C1126.7,336.7 1133.3,334.8 1140.0,333.3C1146.7,331.8 1153.3,330.6 1160.0,329.2C1166.7,327.8 1173.3,326.5 1180.0,325.0C1186.7,323.5 1193.3,321.4 1200.0,320.0C1206.7,318.6 1213.3,317.7 1220.0,316.7C1226.7,315.7 1233.3,314.8 1240.0,314.2C1246.7,313.6 1253.3,313.4 1260.0,313.3C1266.7,313.2 1275.0,313.3 1280.0,313.3C1285.0,313.3 1287.2,311.9 1290.0,313.3C1292.8,314.7 1292.8,320.9 1296.7,321.7C1300.6,322.5 1308.3,319.8 1313.3,318.3C1318.3,316.8 1322.2,313.5 1326.7,312.5C1331.2,311.5 1336.1,311.2 1340.0,312.5C1343.9,313.8 1346.7,316.5 1350.0,320.0C1353.3,323.5 1356.7,328.3 1360.0,333.3C1363.3,338.3 1366.7,345.4 1370.0,350.0C1373.3,354.6 1376.7,359.2 1380.0,360.8C1383.3,362.4 1386.7,360.8 1390.0,359.5C1393.3,358.2 1396.1,356.6 1400.0,353.3C1403.9,350.1 1408.3,345.0 1413.3,340.0C1418.3,335.0 1424.4,328.9 1430.0,323.3C1435.6,317.8 1441.2,311.7 1446.7,306.7C1452.2,301.7 1457.8,297.5 1463.3,293.3C1468.8,289.1 1475.0,284.8 1480.0,281.7C1485.0,278.6 1487.8,276.9 1493.3,275.0C1498.8,273.1 1506.6,271.4 1513.3,270.0C1520.0,268.6 1527.7,268.4 1533.3,266.7L1546.7,260.0L1556.7,265.8L1570.0,276.7L1578.3,290.0L1586.7,304.2L1595.0,303.3L1601.7,282.5L1610.0,283.3L1615.0,303.3L1623.3,320.8L1636.7,308.3L1646.7,300.0L1656.7,300.0L1663.3,309.2L1673.3,311.7L1690.0,325.0L1698.0,331.0L1703.3,342.5L1711.7,335.8L1725.0,335.8L1733.3,320.0L1743.3,314.2L1751.7,316.7L1760.0,333.3L1765.0,347.5L1773.3,349.2L1780.0,361.7L1786.7,386.7L1796.7,381.7L1805.0,371.7L1813.3,390.0L1821.7,390.8L1825.0,423.3L1828.0,467.0L1839.5,436.0"/>
</g>
<g stroke="#b4b4b4" stroke-width="3"><line x1="195.00" y1="1164" x2="195.00" y2="1198.5"/><line x1="351.25" y1="1164" x2="351.25" y2="1198.5"/><line x1="507.50" y1="1164" x2="507.50" y2="1198.5"/><line x1="663.75" y1="1164" x2="663.75" y2="1198.5"/><line x1="820.00" y1="1164" x2="820.00" y2="1198.5"/><line x1="976.25" y1="1164" x2="976.25" y2="1198.5"/><line x1="1132.50" y1="1164" x2="1132.50" y2="1198.5"/><line x1="1288.75" y1="1164" x2="1288.75" y2="1198.5"/><line x1="1445.00" y1="1164" x2="1445.00" y2="1198.5"/><line x1="1601.25" y1="1164" x2="1601.25" y2="1198.5"/><line x1="1757.50" y1="1164" x2="1757.50" y2="1198.5"/><line x1="193" y1="1199.0" x2="226" y2="1199.0"/><line x1="193" y1="987.2" x2="226" y2="987.2"/><line x1="193" y1="775.4" x2="226" y2="775.4"/><line x1="193" y1="563.6" x2="226" y2="563.6"/><line x1="193" y1="351.8" x2="226" y2="351.8"/><line x1="193" y1="140.0" x2="226" y2="140.0"/></g>
<g font-family="Liberation Serif, serif" font-size="52.5" fill="#000" stroke="#000" stroke-width="0.3"><text x="194.0" y="1262.5" text-anchor="middle">400</text><text x="350.2" y="1262.5" text-anchor="middle">600</text><text x="506.5" y="1262.5" text-anchor="middle">800</text><text x="662.8" y="1262.5" text-anchor="middle">1000</text><text x="819.0" y="1262.5" text-anchor="middle">1200</text><text x="975.2" y="1262.5" text-anchor="middle">1400</text><text x="1131.5" y="1262.5" text-anchor="middle">1600</text><text x="1287.8" y="1262.5" text-anchor="middle">1800</text><text x="1444.0" y="1262.5" text-anchor="middle">2000</text><text x="1600.2" y="1262.5" text-anchor="middle">2200</text><text x="1756.5" y="1262.5" text-anchor="middle">2400</text><text x="175" y="1220.0" text-anchor="end">0.0</text><text x="175" y="1008.2" text-anchor="end">0.1</text><text x="175" y="796.4" text-anchor="end">0.2</text><text x="175" y="584.6" text-anchor="end">0.3</text><text x="175" y="372.8" text-anchor="end">0.4</text><text x="175" y="161.0" text-anchor="end">0.5</text></g>
<text x="799.2" y="1367.6" font-family="Liberation Serif, serif" font-weight="bold" font-size="67" textLength="521.6" lengthAdjust="spacing">Wavelengths (nm)</text>
<text transform="translate(58.8,779) rotate(-90)" x="0" y="0" font-family="Liberation Serif, serif" font-weight="bold" font-size="67" textLength="335" lengthAdjust="spacing">Reflectance</text>
<line x1="228.5" y1="67" x2="298.5" y2="67" stroke="#5595e5" stroke-width="8"/>
<text x="304.9" y="87.6" class="lg"><tspan letter-spacing="0.61">Soil moisture content =</tspan><tspan x="808.5" letter-spacing="2.1">32.8%</tspan></text>
<line x1="228.5" y1="127.5" x2="298.5" y2="127.5" stroke="#d70032" stroke-width="8"/>
<text x="304.9" y="146.9" class="lg"><tspan letter-spacing="0.61">Soil moisture content =</tspan><tspan x="808.5" letter-spacing="2.1">29.8%</tspan></text>
<line x1="228.5" y1="188.2" x2="298.5" y2="188.2" stroke="#288828" stroke-width="8"/>
<text x="304.9" y="209" class="lg"><tspan letter-spacing="0.61">Soil moisture content =</tspan><tspan x="808.5" letter-spacing="2.1">24.7%</tspan></text>
<line x1="228.5" y1="248.8" x2="298.5" y2="248.8" stroke="#f0692d" stroke-width="8"/>
<text x="304.9" y="268.3" class="lg"><tspan letter-spacing="0.61">Soil moisture content =</tspan><tspan x="808.5" letter-spacing="2.1">19.8%</tspan></text>
<line x1="1003.5" y1="67" x2="1073" y2="67" stroke="#e4d512" stroke-width="8"/>
<text x="1079.7" y="87.6" class="lg"><tspan letter-spacing="0.61">Soil moisture content =</tspan><tspan x="1584.5" letter-spacing="2.5">11.8%</tspan></text>
<line x1="1003.5" y1="127.5" x2="1073" y2="127.5" stroke="#14b4a0" stroke-width="8"/>
<text x="1079.7" y="146.9" class="lg"><tspan letter-spacing="0.61">Soil moisture content =</tspan><tspan x="1587.5" letter-spacing="2.5">8.8%</tspan></text>
<line x1="1003.5" y1="188.2" x2="1073" y2="188.2" stroke="#fbbedc" stroke-width="8"/>
<text x="1079.7" y="209" class="lg"><tspan letter-spacing="0.61">Soil moisture content =</tspan><tspan x="1584.5" letter-spacing="2.5">5.9%</tspan></text>
<line x1="1003.5" y1="248.8" x2="1073" y2="248.8" stroke="#aa4bf5" stroke-width="8"/>
<text x="1079.7" y="268.3" class="lg" letter-spacing="0.2">Dried soil</text>
</svg>
</body></html>
